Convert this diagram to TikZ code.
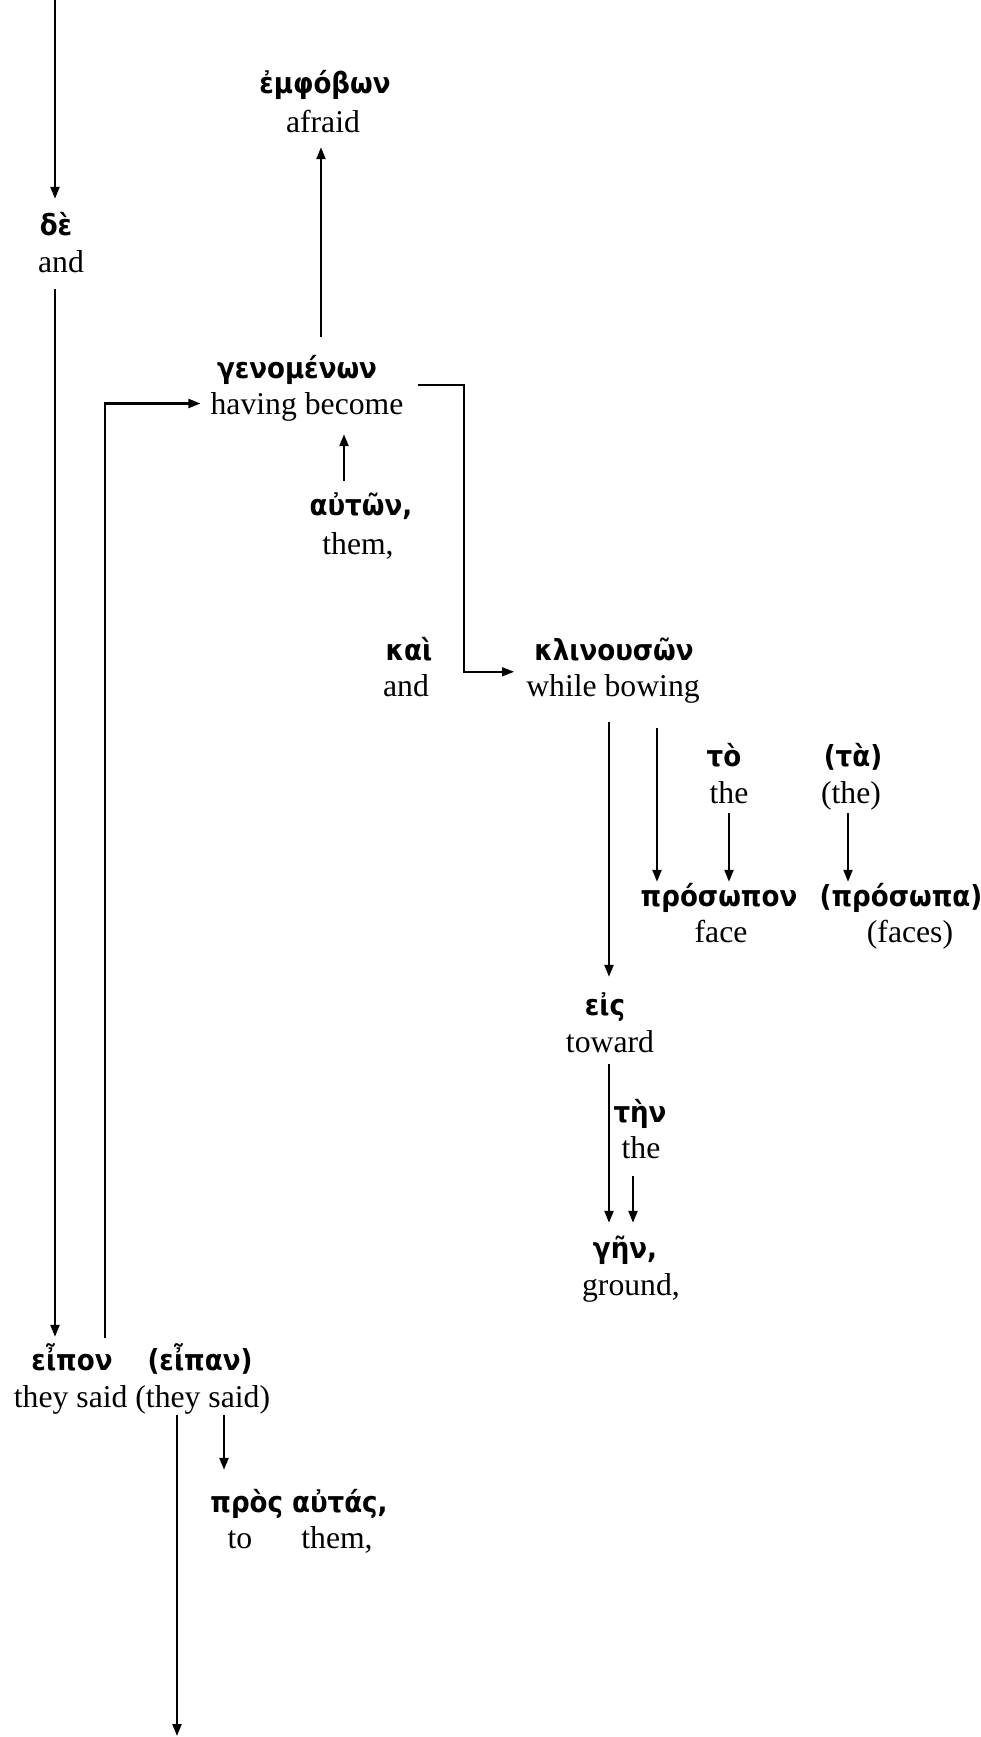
\documentclass[tikz,border=0pt]{standalone}
\usepackage{fontspec}
\setmainfont{Liberation Serif}
\newfontfamily\gkfont{DejaVu Sans Condensed}
\usetikzlibrary{arrows.meta}
\tikzset{
  gk/.style={anchor=base,inner sep=0pt,text height=20pt,text depth=6pt,font=\gkfont\bfseries\fontsize{29}{33}\selectfont},
  en/.style={anchor=base,inner sep=0pt,text height=22pt,text depth=7pt,font=\fontsize{31.7}{38}\selectfont},
  tip/.style={-{Triangle[length=12pt,width=9pt]}},
  arr/.style={line width=2.2pt,tip},
  con/.style={line width=1.5pt,tip},
}
\begin{document}
\begin{tikzpicture}[x=1pt,y=-1pt]
\useasboundingbox (0,0) rectangle (981,1737);
% words
\node[gk] (deG) at (56,235) {δὲ};
\node[en] (deE) at (61,272) {and};
\node[gk] (emG) at (325,93) {ἐμφόβων};
\node[en] (emE) at (323,132) {afraid};
\node[gk] (genG) at (297,378) {γενομένων};
\node[en] (genE) at (307,414) {having become};
\node[gk] (autG) at (361,515) {αὐτῶν,};
\node[en] (autE) at (358,554) {them,};
\node[gk] (kaiG) at (409,660) {καὶ};
\node[en] (kaiE) at (406,696) {and};
\node[gk] (klG) at (614,660) {κλινουσῶν};
\node[en] (klE) at (613,696) {while bowing};
\node[gk] (toG) at (724,766) {τὸ};
\node[en] (toE) at (729,803) {the};
\node[gk] (taG) at (853,766) {(τὰ)};
\node[en] (taE) at (851,803) {(the)};
\node[gk] (prG) at (719,906) {πρόσωπον};
\node[en] (prE) at (721,942) {face};
\node[gk] (pr2G) at (901,906) {(πρόσωπα)};
\node[en] (pr2E) at (910,942) {(faces)};
\node[gk] (eisG) at (605,1015) {εἰς};
\node[en] (eisE) at (610,1052) {toward};
\node[gk] (tenG) at (640,1122) {τὴν};
\node[en] (tenE) at (641,1158) {the};
\node[gk] (gG) at (625,1258) {γῆν,};
\node[en] (gE) at (631,1295) {ground,};
\node[gk] (eipG) at (72,1370) {εἶπον};
\node[gk] (eip2G) at (200,1370) {(εἶπαν)};
\node[en] (eipE) at (142,1407) {they said (they said)};
\node[gk] (prosG) at (299,1512) {πρὸς αὐτάς,};
\node[en] (toE2) at (240,1548) {to};
\node[en] (themE2) at (337,1548) {them,};
\coordinate (top) at (55,0);
\coordinate (bot) at (177,1736);
% connectors
\draw[arr,shorten >=16pt] (top) -- (top |- deG.north);
\draw[arr,shorten <=10pt,shorten >=13pt] (top |- deE.south) -- (top |- eipG.north);
\draw[arr,shorten <=12pt,shorten >=10pt] ([shift={(33,0)}]eipG.north) |- ([shift={(0,-3)}]genE.west);
\draw[arr,shorten <=21pt,shorten >=8pt] ([shift={(24,0)}]genG.north) -- ([shift={(24,0)}]genG.north |- emE.south);
\draw[con] ([shift={(14,-7)}]genE.north east) -| ([shift={(-62,-2)}]klE.north west) -- ([shift={(-12,-2)}]klE.north west);
\draw[arr,shorten <=14pt,shorten >=13pt] ([shift={(-17,0)}]autG.north) -- ([shift={(-17,0)}]autG.north |- genE.south);
\draw[arr,shorten <=19pt,shorten >=18pt] ([shift={(-4,0)}]klE.south) -- ([shift={(-4,0)}]klE.south |- eisG.north);
\draw[arr,shorten <=25pt,shorten >=4pt] ([shift={(44,0)}]klE.south) -- ([shift={(44,0)}]klE.south |- prG.north);
\draw[arr,shorten <=3pt,shorten >=4pt] (toE.south) -- (toE.south |- prG.north);
\draw[arr,shorten <=3pt,shorten >=4pt] ([shift={(-3,0)}]taE.south) -- ([shift={(-3,0)}]taE.south |- pr2G.north);
\draw[arr,shorten <=5pt,shorten >=15pt] ([shift={(-1,0)}]eisE.south) -- ([shift={(-1,0)}]eisE.south |- gG.north);
\draw[arr,shorten <=11pt,shorten >=15pt] ([shift={(-8,0)}]tenE.south) -- ([shift={(-8,0)}]tenE.south |- gG.north);
\draw[arr,shorten <=1pt] (bot |- eipE.south) -- (bot);
\draw[arr,shorten <=1pt,shorten >=22pt] ([shift={(82,0)}]eipE.south) -- ([shift={(82,0)}]eipE.south |- prosG.north);
\end{tikzpicture}
\end{document}
